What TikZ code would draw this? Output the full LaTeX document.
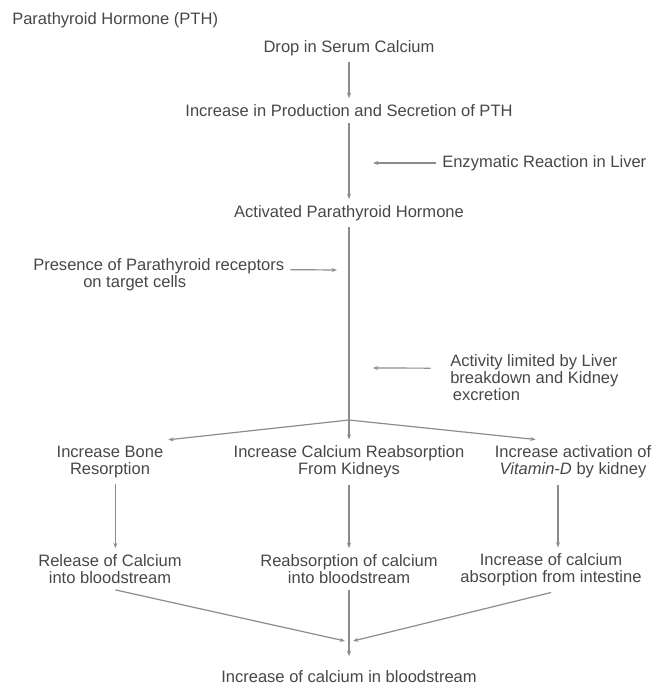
\documentclass[tikz,border=0pt]{standalone}
\usepackage{fontspec}
\setmainfont{Liberation Sans}
\usetikzlibrary{arrows.meta}

\begin{document}
\begin{tikzpicture}[x=0.75pt,y=-0.75pt,
    every node/.style={font=\fontsize{12.4pt}{12.8pt}\selectfont, text=black!72, inner sep=4.5pt, align=center},
    arr/.style={draw=black!45, line width=0.9pt, -{Stealth[length=4pt,width=3pt]}}]
    \useasboundingbox (0,0) rectangle (654,691);
    \node[anchor=west] (pth) at (6,20) {Parathyroid Hormone (PTH)};
    \node (drop) at (349,48) {Drop in Serum Calcium};
    \node (prod) at (349,110.5) {Increase in Production and Secretion of PTH};
    \node (act) at (349,213) {Activated Parathyroid Hormone};
    \node[anchor=west] (enz) at (436,163) {Enzymatic Reaction in Liver};
    \node[anchor=west, align=left] (pres) at (27,275) {Presence of Parathyroid receptors\\\hspace*{37.5pt}on target cells};
    \node[anchor=west, align=left] (lim) at (444,377.5) {Activity limited by Liver\\breakdown and Kidney\\\hspace*{2pt}excretion};
    \node (bone) at (110,462) {Increase Bone\\Resorption};
    \node (kid) at (349,462) {Increase Calcium Reabsorption\\From Kidneys};
    \node (vitd) at (573,462) {Increase activation of\\\textit{Vitamin-D} by kidney};
    \node (rel) at (110,569) {Release of Calcium\\into bloodstream};
    \node (rea) at (349,569) {Reabsorption of calcium\\into bloodstream};
    \node (intes) at (551,570) {Increase of calcium\\absorption from intestine};
    \node (sum) at (349,676.5) {Increase of calcium in bloodstream};
    \coordinate (enzend) at (373,163);
    \coordinate (presend) at (337,270);
    \coordinate (limend) at (373,368);
    \coordinate (split) at (349,420);
    \coordinate (join) at (349,641);
    \draw[arr] (drop) -- (prod);
    \draw[arr] (prod) -- (act);
    \draw[arr] (act) -- (kid);
    \draw[arr] (enz) -- (enzend);
    \draw[arr] ([yshift=4pt]pres.east) -- (presend);
    \draw[arr] ([xshift=-10pt,yshift=7pt]lim.west) -- (limend);
    \draw[arr] (split) -- ([xshift=-1pt]bone.north east);
    \draw[arr] (split) -- ([xshift=-28pt]vitd.north);
    \draw[arr] ([xshift=4pt]bone.south) -- ([xshift=4pt]rel.north);
    \draw[arr] (kid) -- (rea);
    \draw[arr] ([xshift=-11.25pt]vitd.south) -- ([xshift=5.25pt]intes.north);
    \draw[arr] ([xshift=4pt]rel.south) -- ([xshift=-3pt]join);
    \draw[arr] (intes.south) -- ([xshift=3pt]join);
    \draw[arr, shorten >=6pt] (rea) -- (sum);
\end{tikzpicture}
\end{document}
